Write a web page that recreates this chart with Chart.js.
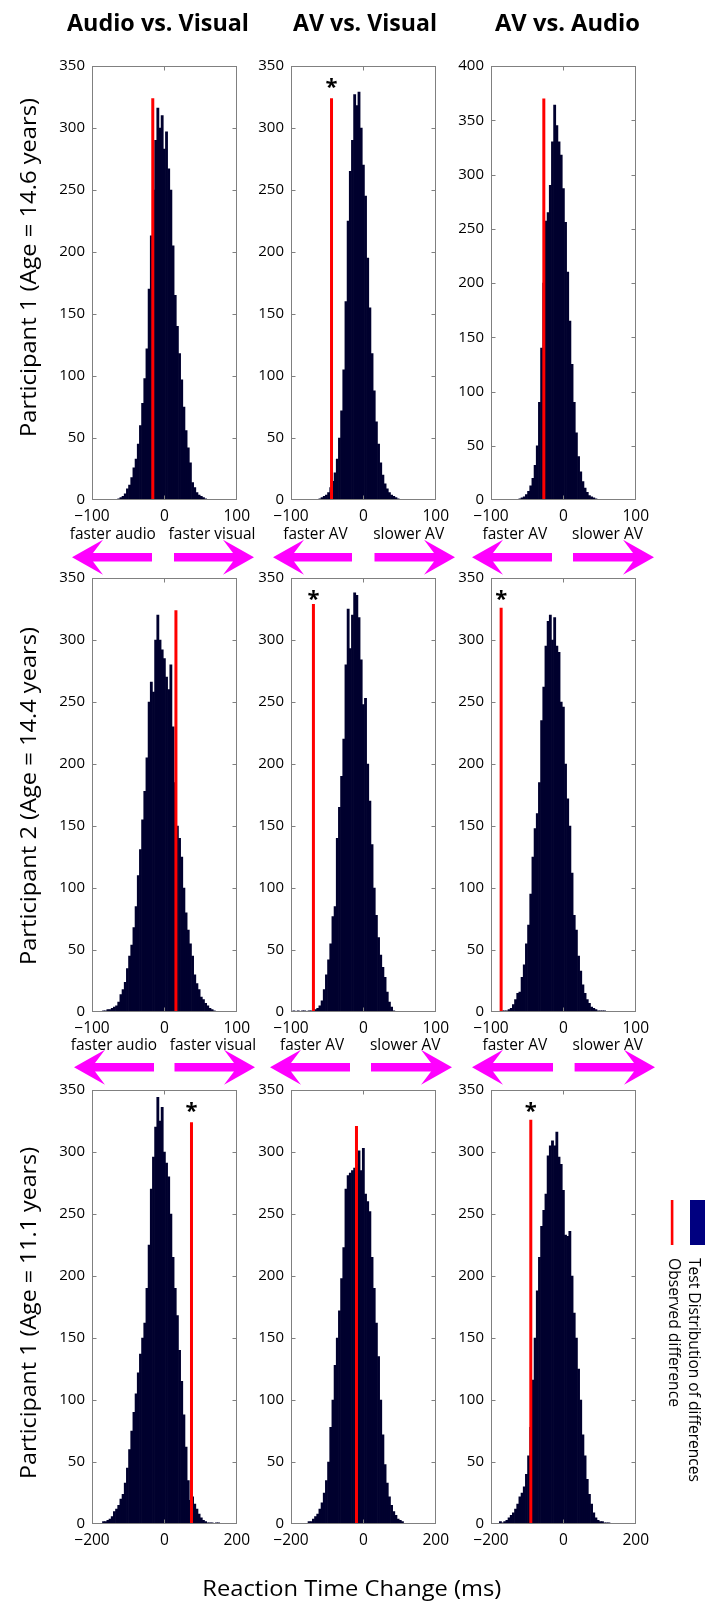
<!DOCTYPE html>
<html><head><meta charset="utf-8">
<script src="https://cdn.jsdelivr.net/npm/chart.js@4.4.1/dist/chart.umd.min.js"></script>
<style>
html,body{margin:0;padding:0;background:#fff;}
#page{position:relative;width:705px;height:1604px;overflow:hidden;font-family:'Open Sans',sans-serif;background:#fff;}
#page canvas{position:absolute;}
.t{position:absolute;left:0;top:0;white-space:nowrap;line-height:1;color:#000;transform-origin:0 0;font-family:'Open Sans',sans-serif;}
</style></head><body><div id="page"><canvas id="bg" width="705" height="1604" style="left:0;top:0;width:705px;height:1604px"></canvas></div>
<script>
// ---------------- data ----------------
const colTitles = ["Audio vs. Visual", "AV vs. Visual", "AV vs. Audio"];
const rowLabels = ["Participant 1 (Age = 14.6 years)", "Participant 2 (Age = 14.4 years)", "Participant 1 (Age = 11.1 years)"];
const xAxisTitle = "Reaction Time Change (ms)";
const directionLabels = [["faster audio", "faster visual"], ["faster AV", "slower AV"], ["faster AV", "slower AV"]];
const legendLabels = ["Test Distribution of differences", "Observed difference"];
const xTicksRow12 = [-100, 0, 100];
const xTicksRow3 = [-200, 0, 200];
const yTickStep = 50;
const yMax = [[350, 350, 400], [350, 350, 350], [350, 350, 350]];
const binWidth = [3, 3, 6];                       // ms, per row
const firstBinCenter = [[-63, -60, -60], [-84, -96, -84], [-168, -150, -174]];

const counts_r1c1 = [1,2,3,5,9,12,18,26,33,45,60,78,98,122,170,213,250,290,316,300,310,283,297,267,250,205,165,140,118,97,75,56,42,30,14,10,6,4,3,2,1];
const counts_r1c2 = [1,2,3,4,6,10,15,22,33,50,72,105,160,225,265,290,327,318,329,300,270,245,195,155,118,88,63,45,30,20,13,9,6,4,3,2,1];
const counts_r1c3 = [1,2,3,5,8,13,20,32,50,90,140,200,257,265,290,330,364,345,330,318,287,256,210,165,125,90,62,40,26,17,11,7,4,3,2,1];
const counts_r2c1 = [1,1,2,2,3,4,5,8,14,18,24,35,45,54,68,85,110,131,155,178,205,250,266,258,300,320,300,292,285,270,260,280,230,185,150,140,125,100,80,66,55,45,30,23,18,12,10,7,5,3,2,1];
const counts_r2c2 = [1,0,1,0,1,1,0,1,1,2,2,3,5,9,18,30,42,55,77,85,140,165,190,220,280,325,293,320,338,336,318,284,248,253,200,170,135,100,78,60,46,36,28,16,8,4,1];
const counts_r2c3 = [1,1,1,2,3,6,10,15,16,28,38,55,70,95,125,148,160,185,235,262,295,315,320,300,318,295,290,250,246,200,172,150,112,78,66,45,33,22,15,10,7,4,3,2,1,1,1,1];
const counts_r3c1 = [2,2,3,4,6,10,12,15,20,24,33,45,60,75,90,105,122,137,150,162,190,225,270,296,320,344,325,336,300,291,280,250,215,190,168,140,115,88,62,35,19,22,16,12,8,5,3,2,1,1,1,0,1,1];
const counts_r3c2 = [2,2,4,6,8,12,17,25,35,50,78,100,128,150,172,198,223,270,281,283,285,287,290,301,285,303,266,260,252,215,190,162,135,100,72,48,33,22,15,10,7,4,3,2];
const counts_r3c3 = [2,1,2,3,5,7,9,12,16,22,25,30,40,55,78,116,150,188,215,240,253,266,297,305,309,305,316,296,290,269,233,232,236,200,170,150,125,100,72,55,36,24,16,9,5,3,2,2,1,1,1];

const observedDiff = [[-16, -44, -27], [16, -69, -86], [75, -19, -90]];
const observedLineTop = [[324, 324, 370], [324, 329, 326], [324, 321, 326]];
const significant = [[false, true, false], [false, true, true], [true, false, true]];
const starLevel = 337;

const allCounts = [[counts_r1c1, counts_r1c2, counts_r1c3], [counts_r2c1, counts_r2c2, counts_r2c3], [counts_r3c1, counts_r3c2, counts_r3c3]];

// ---------------- layout ----------------
const colLeft = [92, 291, 491];
const rowTop = [66, 578, 1090];
const plotW = 145, plotH = 434;
const padL = 60, padT = 30, padR = 20, padB = 40;

const page = document.getElementById('page');
Chart.defaults.font.family = "'Open Sans', sans-serif";
Chart.defaults.font.size = 15;
Chart.defaults.color = '#000';

function addText(str, x, y, fs, weight, w, rot) {
  const s = document.createElement('span');
  s.className = 't';
  s.textContent = str;
  s.style.fontSize = fs + 'px';
  s.style.fontWeight = weight;
  page.appendChild(s);
  const mw = s.getBoundingClientRect().width;
  const sx = w ? w / mw : 1;
  s.style.transform = `translate(${x}px,${y}px) rotate(${rot || 0}deg) scale(${sx},1) translate(${-mw / 2}px,${-0.888 * fs}px)`;
  return s;
}

const fmt = v => (v < 0 ? '\u2212' + Math.abs(v) : String(v));

const boxPlugin = {
  id: 'matlabBox',
  afterDatasetsDraw(chart) {
    const { ctx, chartArea: a, scales } = chart;
    ctx.save();
    ctx.strokeStyle = '#808080';
    ctx.lineWidth = 1;
    const L = Math.round(a.left) + 0.5, R = Math.round(a.right) - 0.5, T = Math.round(a.top) + 0.5, B = Math.round(a.bottom) - 0.5;
    ctx.strokeRect(L, T, R - L, B - T);
    ctx.beginPath();
    scales.y.ticks.forEach(t => {
      if (t.value <= scales.y.min || t.value >= scales.y.max) return;
      const py = Math.round(scales.y.getPixelForValue(t.value)) + 0.5;
      ctx.moveTo(L, py); ctx.lineTo(L + 4, py);
      ctx.moveTo(R, py); ctx.lineTo(R - 4, py);
    });
    scales.x.ticks.forEach(t => {
      if (t.value <= scales.x.min || t.value >= scales.x.max) return;
      const px = Math.round(scales.x.getPixelForValue(t.value)) + 0.5;
      ctx.moveTo(px, T); ctx.lineTo(px, T + 4);
      ctx.moveTo(px, B); ctx.lineTo(px, B - 4);
    });
    ctx.stroke();
    ctx.restore();
  }
};

function makePanel(r, c) {
  const cl = colLeft[c] - padL, ct = rowTop[r] - padT;
  const W = plotW + padL + padR, H = plotH + padT + padB;
  const cv = document.createElement('canvas');
  cv.width = W; cv.height = H;
  cv.style.left = cl + 'px'; cv.style.top = ct + 'px';
  cv.style.width = W + 'px'; cv.style.height = H + 'px';
  page.appendChild(cv);
  const counts = allCounts[r][c];
  const bars = counts.map((v, i) => ({ x: firstBinCenter[r][c] + i * binWidth[r], y: v }));
  const xt = r < 2 ? xTicksRow12 : xTicksRow3;
  const obs = observedDiff[r][c];
  const chart = new Chart(cv, {
    data: {
      datasets: [
        { type: 'line', data: [{ x: obs, y: 0 }, { x: obs, y: observedLineTop[r][c] }], borderColor: '#ff0000', borderWidth: 3, pointRadius: 0, order: 0 },
        { type: 'bar', data: bars, backgroundColor: '#00002e', borderWidth: 0, barPercentage: 1, categoryPercentage: 1, order: 1 }
      ]
    },
    options: {
      responsive: false, animation: false, devicePixelRatio: 1,
      layout: { padding: { left: 0, top: padT, right: padR, bottom: 0 } },
      plugins: { legend: { display: false }, tooltip: { enabled: false } },
      scales: {
        x: {
          type: 'linear', min: xt[0], max: xt[xt.length - 1], offset: false,
          afterBuildTicks: s => { s.ticks = xt.map(v => ({ value: v })); },
          ticks: { callback: fmt, padding: 7, maxRotation: 0, autoSkip: false, font: { size: 15.5 } },
          grid: { display: false, drawTicks: false }, border: { display: false },
          afterFit: s => { s.height = padB; }
        },
        y: {
          type: 'linear', min: 0, max: yMax[r][c],
          ticks: { stepSize: yTickStep, callback: fmt, padding: 7, font: { size: 15 } },
          grid: { display: false, drawTicks: false }, border: { display: false },
          afterFit: s => { s.width = padL; }
        }
      }
    },
    plugins: [boxPlugin]
  });
  if (significant[r][c]) {
    const px = cl + chart.scales.x.getPixelForValue(obs);
    const cy = ct + chart.scales.y.getPixelForValue(starLevel) - 1;
    addText('*', px, cy + 0.55 * 22, 22, 700);
  }
}

for (let r = 0; r < 3; r++) for (let c = 0; c < 3; c++) makePanel(r, c);

// ---------------- decorations ----------------
const bg = document.getElementById('bg').getContext('2d');
function arrow(tipX, tailX, cy) {
  const d = tailX > tipX ? 1 : -1;
  const headLen = 31, notch = 21, halfH = 17.5, halfS = 4.2;
  bg.beginPath();
  bg.moveTo(tipX, cy);
  bg.lineTo(tipX + d * headLen, cy - halfH);
  bg.lineTo(tipX + d * notch, cy - halfS);
  bg.lineTo(tailX, cy - halfS);
  bg.lineTo(tailX, cy + halfS);
  bg.lineTo(tipX + d * notch, cy + halfS);
  bg.lineTo(tipX + d * headLen, cy + halfH);
  bg.closePath();
  bg.fillStyle = '#ff00ff';
  bg.fill();
}
const arrowRows = [
  { cy: 557.3, a: [[72, 152], [254, 174], [273, 352], [455, 374.5], [472, 552], [654, 573]] },
  { cy: 1067.3, a: [[74, 154], [255, 174.5], [270, 350], [452, 371], [472, 553], [655, 574.6]] }
];
arrowRows.forEach(row => row.a.forEach(p => arrow(p[0], p[1], row.cy)));

// legend marks
bg.fillStyle = '#ff0000';
bg.fillRect(670.8, 1200, 2.6, 45);
bg.fillStyle = '#000080';
bg.fillRect(690, 1200, 15, 45);

// titles
const titlePos = [[158, 182], [365, 144], [567.5, 145]];
colTitles.forEach((t, i) => addText(t, titlePos[i][0], 31.7, 24, 700, titlePos[i][1]));

// direction labels
const dirPos = [
  { base: 539.3, p: [[112.8, 86], [212, 86.8], [315.4, 64.3], [408.7, 71], [514.8, 64.7], [607.5, 71]] },
  { base: 1050.7, p: [[114, 86.3], [213, 86.3], [312, 64], [405.3, 70.6], [514.8, 64.7], [607.7, 70.6]] }
];
dirPos.forEach(row => {
  for (let c = 0; c < 3; c++) for (let k = 0; k < 2; k++) {
    const p = row.p[c * 2 + k];
    addText(directionLabels[c][k], p[0], row.base, 16.5, 400, p[1]);
  }
});

// row labels
const rowLabelPos = [[267.5, 339], [796, 338], [1313, 332]];
rowLabels.forEach((t, i) => addText(t, 36, rowLabelPos[i][0], 22, 400, rowLabelPos[i][1], -90));

// x axis title
addText(xAxisTitle, 351.8, 1596.5, 21, 400, 299);

// legend text
addText(legendLabels[0], 688.5, 1370, 16.5, 400, 224, 90);
addText(legendLabels[1], 668, 1332.5, 16.5, 400, 149, 90);
</script>
</body></html>
